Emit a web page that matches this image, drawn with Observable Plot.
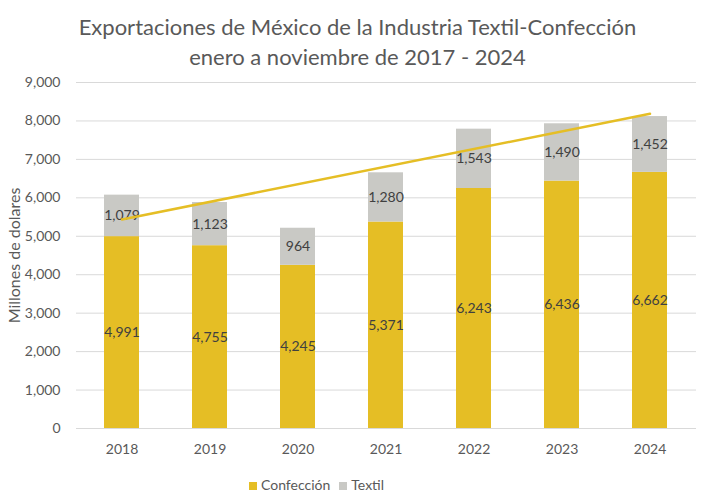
<!DOCTYPE html>
<html>
<head>
<meta charset="utf-8">
<script src="https://cdn.jsdelivr.net/npm/d3@7"></script>
<script src="https://cdn.jsdelivr.net/npm/@observablehq/plot@0.6"></script>
<style>
  body { margin: 0; background: #fff; width: 715px; height: 500px; overflow: hidden; font-family: Lato, "Open Sans", sans-serif; }
  #title { text-align: center; color: #595959; font-size: 22px; line-height: 30px; padding-top: 12px; height: 60px; }
  #chart { position: absolute; top: 72px; left: 0; }
  #legend { position: absolute; top: 476px; left: 249px; font-size: 14px; color: #595959; white-space: nowrap; }
  .sw { display: inline-block; width: 8px; height: 8px; margin-right: 4px; vertical-align: 0px; }
  .item { display: inline-block; margin-right: 9px; }
</style>
</head>
<body>
<div id="title">Exportaciones de México de la Industria Textil-Confección<br>enero a noviembre de 2017 - 2024</div>
<div id="chart"></div>
<div id="legend"></div>
<script>
const years = ["2018", "2019", "2020", "2021", "2022", "2023", "2024"];
const confeccion = [4991, 4755, 4245, 5371, 6243, 6436, 6662];
const textil = [1079, 1123, 964, 1280, 1543, 1490, 1452];
const series = ["Confección", "Textil"];
const colors = ["#E5BE25", "#C9C9C5"];
const trendYears = ["2018", "2024"];
const trendValues = [5437, 8187];
const yTicks = [0, 1000, 2000, 3000, 4000, 5000, 6000, 7000, 8000, 9000];

const rows = years.flatMap((y, i) => [
  {year: y, serie: series[0], value: confeccion[i]},
  {year: y, serie: series[1], value: textil[i]}
]);
const trend = trendYears.map((y, i) => ({year: y, value: trendValues[i]}));
const fmt = d3.format(",");

const plot = Plot.plot({
  width: 715,
  height: 393,
  marginTop: 10,
  marginBottom: 37,
  marginLeft: 76,
  marginRight: 19,
  style: {fontFamily: "Lato, 'Open Sans', sans-serif", fontSize: "14px", color: "#595959", background: "white"},
  x: {domain: years, paddingInner: 0.6, paddingOuter: 0.3, label: null, tickSize: 0, tickPadding: 16},
  y: {domain: [0, 9000], ticks: yTicks, tickFormat: fmt, tickSize: 0, tickPadding: 16,
      label: "Millones de dolares", labelAnchor: "center", labelOffset: 68, labelArrow: "none"},
  color: {domain: series, range: colors},
  marks: [
    Plot.gridY(yTicks, {stroke: "#D9D9D9", strokeOpacity: 1, strokeWidth: 1}),
    Plot.barY(rows, Plot.stackY({x: "year", y: "value", z: "serie", fill: "serie"})),
    Plot.ruleY([0], {stroke: "#D9D9D9", strokeWidth: 1}),
    Plot.text(rows, Plot.stackY({x: "year", y: "value", z: "serie", text: d => fmt(d.value), fill: "#404040", fontSize: 14})),
    Plot.line(trend, {x: "year", y: "value", stroke: "#E5BE25", strokeWidth: 2.5})
  ]
});
const ylab = plot.querySelector('g[aria-label="y-axis label"]');
if (ylab) ylab.setAttribute("font-size", "16px");
document.getElementById("chart").appendChild(plot);

const legend = document.getElementById("legend");
series.forEach((s, i) => {
  const span = document.createElement("span");
  span.className = "item";
  span.innerHTML = `<span class="sw" style="background:${colors[i]}"></span>${s}`;
  legend.appendChild(span);
});
</script>
</body>
</html>
